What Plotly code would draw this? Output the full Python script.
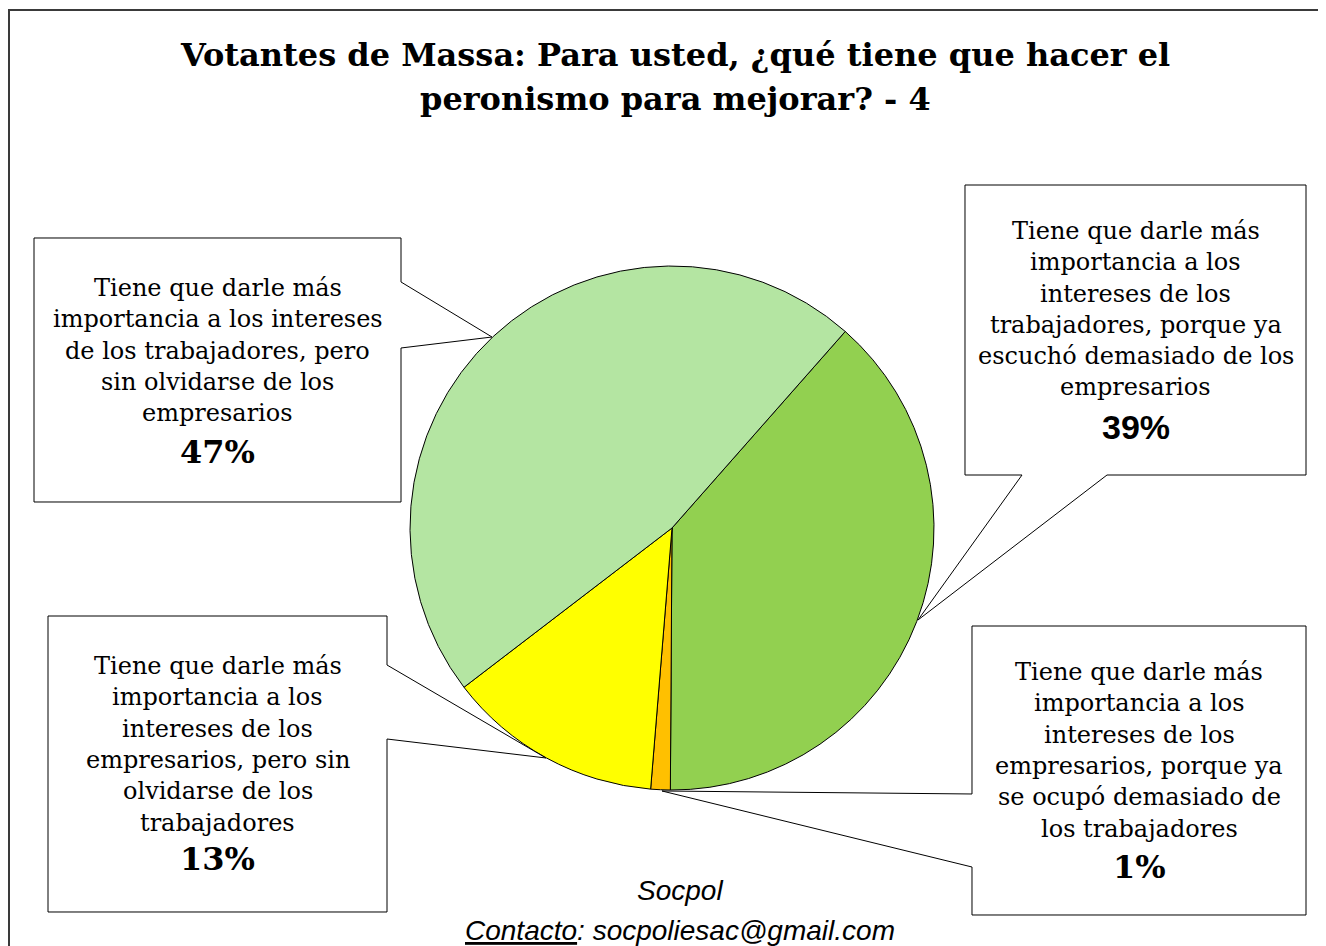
import plotly.graph_objects as go

# pie data, in clockwise order starting from the upper right
categories = [
    "Tiene que darle más importancia a los intereses de los trabajadores, porque ya escuchó demasiado de los empresarios",
    "Tiene que darle más importancia a los intereses de los empresarios, porque ya se ocupó demasiado de los trabajadores",
    "Tiene que darle más importancia a los intereses de los empresarios, pero sin olvidarse de los trabajadores",
    "Tiene que darle más importancia a los intereses de los trabajadores, pero sin olvidarse de los empresarios",
]
values = [38.6, 1.2, 13.3, 46.9]
pct_labels = ["39%", "1%", "13%", "47%"]
colors = ["#92D050", "#FFC000", "#FFFF00", "#B4E5A2"]

# label text as wrapped in the picture
label_lines = [
    ["Tiene que darle más", "importancia a los", "intereses de los",
     "trabajadores, porque ya", "escuchó demasiado de los", "empresarios"],
    ["Tiene que darle más", "importancia a los", "intereses de los",
     "empresarios, porque ya", "se ocupó demasiado de", "los trabajadores"],
    ["Tiene que darle más", "importancia a los", "intereses de los",
     "empresarios, pero sin", "olvidarse de los", "trabajadores"],
    ["Tiene que darle más", "importancia a los intereses",
     "de los trabajadores, pero", "sin olvidarse de los", "empresarios"],
]

title_lines = ["Votantes de Massa: Para usted, ¿qué tiene que hacer el",
               "peronismo para mejorar? - 4"]
source = "Socpol"
contact = "<u>Contacto</u>: socpoliesac@gmail.com"

# the page body adds an 8px margin, so the figure is a bit smaller
OFF = 8
W, H = 1326 - OFF, 946 - OFF


def px(x):
    return (x - OFF) / W


def py(y):
    return 1 - (y - OFF) / H


# callout layout (page pixels): box, pointer polygon, first text line y, pct y
callouts = [
    dict(box=(965, 185, 1306, 475), side="bottom", base=(1022, 1107), tip=(918, 620),
         first=231, pct=427, pct_font="Liberation Sans", pct_size=34),
    dict(box=(972, 626, 1306, 915), side="left", base=(794, 867), tip=(662, 791),
         first=672, pct=867, pct_font="DejaVu Serif", pct_size=32),
    dict(box=(48, 616, 387, 912), side="right", base=(665, 739), tip=(546, 758),
         first=666, pct=859, pct_font="DejaVu Serif", pct_size=32),
    dict(box=(34, 238, 401, 502), side="right", base=(282, 348), tip=(492, 337),
         first=288, pct=452, pct_font="DejaVu Serif", pct_size=32),
]
line_step = 31.3


def callout_path(c):
    x0, y0, x1, y1 = c["box"]
    a, b = c["base"]
    t = c["tip"]
    if c["side"] == "right":
        pts = [(x0, y0), (x1, y0), (x1, a), t, (x1, b), (x1, y1), (x0, y1)]
    elif c["side"] == "left":
        pts = [(x0, y0), (x1, y0), (x1, y1), (x0, y1), (x0, b), t, (x0, a)]
    else:
        pts = [(x0, y0), (x1, y0), (x1, y1), (b, y1), t, (a, y1), (x0, y1)]
    return "M " + " L ".join(f"{px(x):.5f},{py(y):.5f}" for x, y in pts) + " Z"


cx, cy, r = 672, 528, 262

fig = go.Figure(go.Pie(
    labels=categories,
    values=values,
    sort=False,
    direction="clockwise",
    rotation=41.4,
    marker=dict(colors=colors, line=dict(color="black", width=1)),
    textinfo="none",
    hoverinfo="label+percent",
    showlegend=False,
    domain=dict(x=[px(cx - r), px(cx + r)], y=[py(cy + r), py(cy - r)]),
))

shapes = [dict(type="rect", xref="paper", yref="paper",
               x0=px(9), y0=py(10), x1=px(1345), y1=py(965),
               line=dict(color="#3a3a3a", width=2), fillcolor="rgba(0,0,0,0)")]
annotations = []

for i, c in enumerate(callouts):
    shapes.append(dict(type="path", xref="paper", yref="paper", path=callout_path(c),
                       fillcolor="white", line=dict(color="black", width=1)))
    xc = (c["box"][0] + c["box"][2]) / 2
    for k, txt in enumerate(label_lines[i]):
        annotations.append(dict(x=px(xc), y=py(c["first"] + k * line_step),
                                xref="paper", yref="paper", text=txt, showarrow=False,
                                xanchor="center", yanchor="middle",
                                font=dict(family="DejaVu Serif", size=24, color="black")))
    annotations.append(dict(x=px(xc), y=py(c["pct"]), xref="paper", yref="paper",
                            text=f"<b>{pct_labels[i]}</b>", showarrow=False,
                            xanchor="center", yanchor="middle",
                            font=dict(family=c["pct_font"], size=c["pct_size"], color="black")))

for k, txt in enumerate(title_lines):
    annotations.append(dict(x=px(675), y=py(55 + k * 44), xref="paper", yref="paper",
                            text=f"<b>{txt}</b>", showarrow=False,
                            xanchor="center", yanchor="middle",
                            font=dict(family="DejaVu Serif", size=32, color="black")))

annotations.append(dict(x=px(680), y=py(890), xref="paper", yref="paper",
                        text=f"<i>{source}</i>", showarrow=False,
                        xanchor="center", yanchor="middle",
                        font=dict(family="Liberation Sans", size=28, color="black")))
annotations.append(dict(x=px(680), y=py(930), xref="paper", yref="paper",
                        text=f"<i>{contact}</i>", showarrow=False,
                        xanchor="center", yanchor="middle",
                        font=dict(family="Liberation Sans", size=28, color="black")))

fig.update_layout(
    width=W, height=H,
    margin=dict(l=0, r=0, t=0, b=0),
    paper_bgcolor="white",
    plot_bgcolor="white",
    shapes=shapes,
    annotations=annotations,
)

fig.write_html("out.html")
